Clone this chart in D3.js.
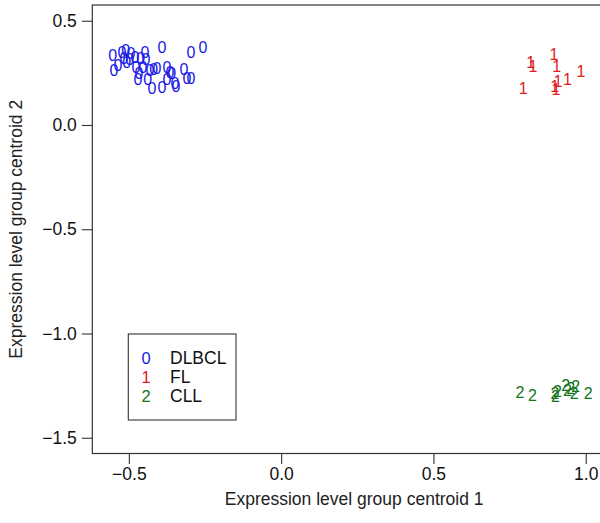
<!DOCTYPE html>
<html><head><meta charset="utf-8">
<script src="https://cdn.jsdelivr.net/npm/d3@7"></script>
<style>body{margin:0;background:#fff}svg{display:block}text{font-family:"Liberation Sans",Arial,sans-serif}</style>
</head><body>
<script>
// Group 0: DLBCL
const dlbclX = [-0.553,-0.549,-0.536,-0.523,-0.516,-0.507,-0.493,-0.480,-0.477,-0.467,-0.470,-0.447,-0.444,-0.454,-0.438,-0.424,-0.418,-0.408,-0.391,-0.391,-0.375,-0.365,-0.375,-0.349,-0.319,-0.309,-0.296,-0.296,-0.257,-0.359,-0.510,-0.497,-0.461,-0.431,-0.345];
const dlbclY = [0.331,0.259,0.283,0.350,0.321,0.302,0.345,0.326,0.278,0.245,0.216,0.350,0.312,0.278,0.216,0.177,0.264,0.269,0.374,0.182,0.278,0.254,0.216,0.197,0.264,0.225,0.225,0.350,0.374,0.245,0.355,0.312,0.321,0.259,0.187];
// Group 1: FL
const flX = [0.819,0.827,0.896,0.905,0.795,0.898,0.909,0.940,0.984,0.902];
const flY = [0.299,0.280,0.336,0.280,0.176,0.184,0.208,0.219,0.256,0.172];
// Group 2: CLL
const cllX = [0.784,0.825,0.899,0.901,0.934,0.940,0.951,0.967,0.962,1.008,0.907];
const cllY = [-1.284,-1.295,-1.287,-1.303,-1.247,-1.271,-1.263,-1.252,-1.287,-1.287,-1.279];

const xTicks = [-0.5, 0.0, 0.5, 1.0];
const yTicks = [0.5, 0.0, -0.5, -1.0, -1.5];
const groupCodes = ["0","1","2"];
const groupNames = ["DLBCL","FL","CLL"];
const groupColors = ["#1a1ae6","#e01b1b","#13741a"];
const xTitle = "Expression level group centroid 1";
const yTitle = "Expression level group centroid 2";

const W = 600, H = 523;
const L = 92.3, T = 5, R = 616, B = 453.5;
const FS = 17.5;
const x = d3.scaleLinear().domain([-0.62, 1.0994]).range([L, R]);
const y = d3.scaleLinear().domain([-1.5755, 0.5755]).range([B, T]);

const svg = d3.select("body").append("svg").attr("width", W).attr("height", H);

svg.append("rect").attr("x", L).attr("y", T).attr("width", R - L).attr("height", B - T)
  .attr("fill", "none").attr("stroke", "#333").attr("stroke-width", 1.2);

const fmt = d => d3.format(".1f")(d).replace("-", "\u2212");
const xa = svg.append("g").attr("transform", `translate(0,${B})`)
  .call(d3.axisBottom(x).tickValues(xTicks).tickFormat(fmt).tickSize(10.5).tickPadding(3.5));
const ya = svg.append("g").attr("transform", `translate(${L},0)`)
  .call(d3.axisLeft(y).tickValues(yTicks).tickFormat(fmt).tickSize(10.5).tickPadding(5));
[xa, ya].forEach(a => {
  a.select(".domain").remove();
  a.selectAll("line").attr("stroke", "#333").attr("stroke-width", 1.1);
  a.selectAll("text").attr("font-size", FS).attr("fill", "#111")
    .style("font-family", '"Liberation Sans",Arial,sans-serif');
});

svg.append("text").attr("x", (L + R) / 2).attr("y", 505).attr("text-anchor", "middle")
  .attr("font-size", FS).attr("fill", "#222").text(xTitle);
svg.append("text").attr("transform", `translate(22,${(T + B) / 2}) rotate(-90)`)
  .attr("text-anchor", "middle").attr("font-size", FS).attr("fill", "#222").text(yTitle);

const groups = [[dlbclX, dlbclY], [flX, flY], [cllX, cllY]];
const clip = svg.append("clipPath").attr("id", "c").append("rect")
  .attr("x", L).attr("y", T).attr("width", R - L).attr("height", B - T);
const pg = svg.append("g").attr("clip-path", "url(#c)");
groups.forEach(([xs, ys], gi) => {
  pg.selectAll(null).data(xs.map((v, i) => [v, ys[i]])).enter().append("text")
    .attr("x", d => x(d[0])).attr("y", d => y(d[1]))
    .attr("text-anchor", "middle").attr("dominant-baseline", "central")
    .attr("font-size", 16).attr("fill", groupColors[gi]).text(groupCodes[gi]);
});

// legend
const lg = svg.append("g");
lg.append("rect").attr("x", 128.3).attr("y", 334).attr("width", 107.7).attr("height", 86)
  .attr("fill", "#fff").attr("stroke", "#333").attr("stroke-width", 1.1);
groupCodes.forEach((c, i) => {
  const yy = 357.5 + i * 19.2;
  lg.append("text").attr("x", 146).attr("y", yy).attr("text-anchor", "middle")
    .attr("dominant-baseline", "central").attr("font-size", 16.5).attr("fill", groupColors[i]).text(c);
  lg.append("text").attr("x", 170).attr("y", yy).attr("dominant-baseline", "central")
    .attr("font-size", FS).attr("fill", "#111").text(groupNames[i]);
});
</script>
</body></html>
